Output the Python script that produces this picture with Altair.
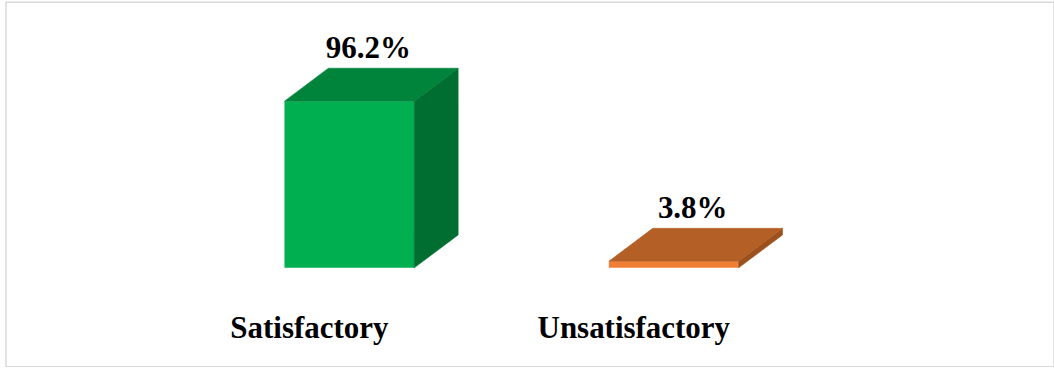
import altair as alt
import pandas as pd

categories = ["Satisfactory", "Unsatisfactory"]
values = [96.2, 3.8]
value_labels = ["96.2%", "3.8%"]

# style constants
HALF_W = 0.2      # half front width (category units)
DEPTH_X = 0.1354  # 3D depth horizontally (category units)
DEPTH_Y = 19.0    # 3D depth vertically (value units)
palette = {
    "Satisfactory": {"front": "#00B050", "top": "#00843C", "side": "#006E31"},
    "Unsatisfactory": {"front": "#F07F35", "top": "#B45F25", "side": "#9C501E"},
}

xs = alt.Scale(domain=[-1.05846, 2.17231], nice=False, zero=False)
ys = alt.Scale(domain=[-57.03, 153.23], nice=False, zero=False)

layers = []
label_rows = []
for i, (c, v, lab) in enumerate(zip(categories, values, value_labels)):
    x0, x1 = i - HALF_W, i + HALF_W
    front_df = pd.DataFrame([{"px": x0, "px2": x1, "py": 0.0, "py2": v}])
    layers.append(
        alt.Chart(front_df).mark_rect(color=palette[c]["front"]).encode(
            x=alt.X("px:Q", scale=xs, axis=None),
            x2="px2:Q",
            y=alt.Y("py:Q", scale=ys, axis=None),
            y2="py2:Q",
        )
    )
    top_df = pd.DataFrame({
        "px": [x0, x0 + DEPTH_X, x1, x1 + DEPTH_X],
        "py": [v, v + DEPTH_Y, v + DEPTH_Y, v + DEPTH_Y],
        "py2": [v, v, v, v + DEPTH_Y],
    })
    side_df = pd.DataFrame({
        "px": [x1, x1 + DEPTH_X],
        "py": [v, v + DEPTH_Y],
        "py2": [0.0, DEPTH_Y],
    })
    for df, face in [(side_df, "side"), (top_df, "top")]:
        col = palette[c][face]
        layers.append(
            alt.Chart(df).mark_area(
                color=col, stroke=col, strokeWidth=0.6, interpolate="linear", opacity=1
            ).encode(
                x=alt.X("px:Q", scale=xs, axis=None),
                y=alt.Y("py:Q", scale=ys, axis=None),
                y2="py2:Q",
            )
        )
    label_rows.append({"cat": c, "label": lab, "px": float(i), "xl": i + DEPTH_X / 2,
                       "yl": v + DEPTH_Y, "y0": 0.0})

label_df = pd.DataFrame(label_rows)

val_text = alt.Chart(label_df).mark_text(
    font="Liberation Serif", fontWeight="bold", fontSize=31, color="black",
    baseline="alphabetic", align="center", dy=-10, dx=-3,
).encode(
    x=alt.X("xl:Q", scale=xs, axis=None),
    y=alt.Y("yl:Q", scale=ys, axis=None),
    text="label:N",
)

cat_text = alt.Chart(label_df).mark_text(
    font="Liberation Serif", fontWeight="bold", fontSize=31, color="black",
    baseline="alphabetic", align="center", dy=70, dx=-40,
).encode(
    x=alt.X("px:Q", scale=xs, axis=None),
    y=alt.Y("y0:Q", scale=ys, axis=None),
    text="cat:N",
)

chart = alt.layer(*layers, val_text, cat_text).properties(
    width=1050, height=365,
    padding={"left": 6, "top": 2, "right": 0, "bottom": 0},
    autosize=alt.AutoSizeParams(type="none"),
    background="white",
).configure_view(stroke="#D9D9D9", strokeWidth=1.5)

chart.save("out.html", embed_options={"renderer": "svg", "actions": False})
